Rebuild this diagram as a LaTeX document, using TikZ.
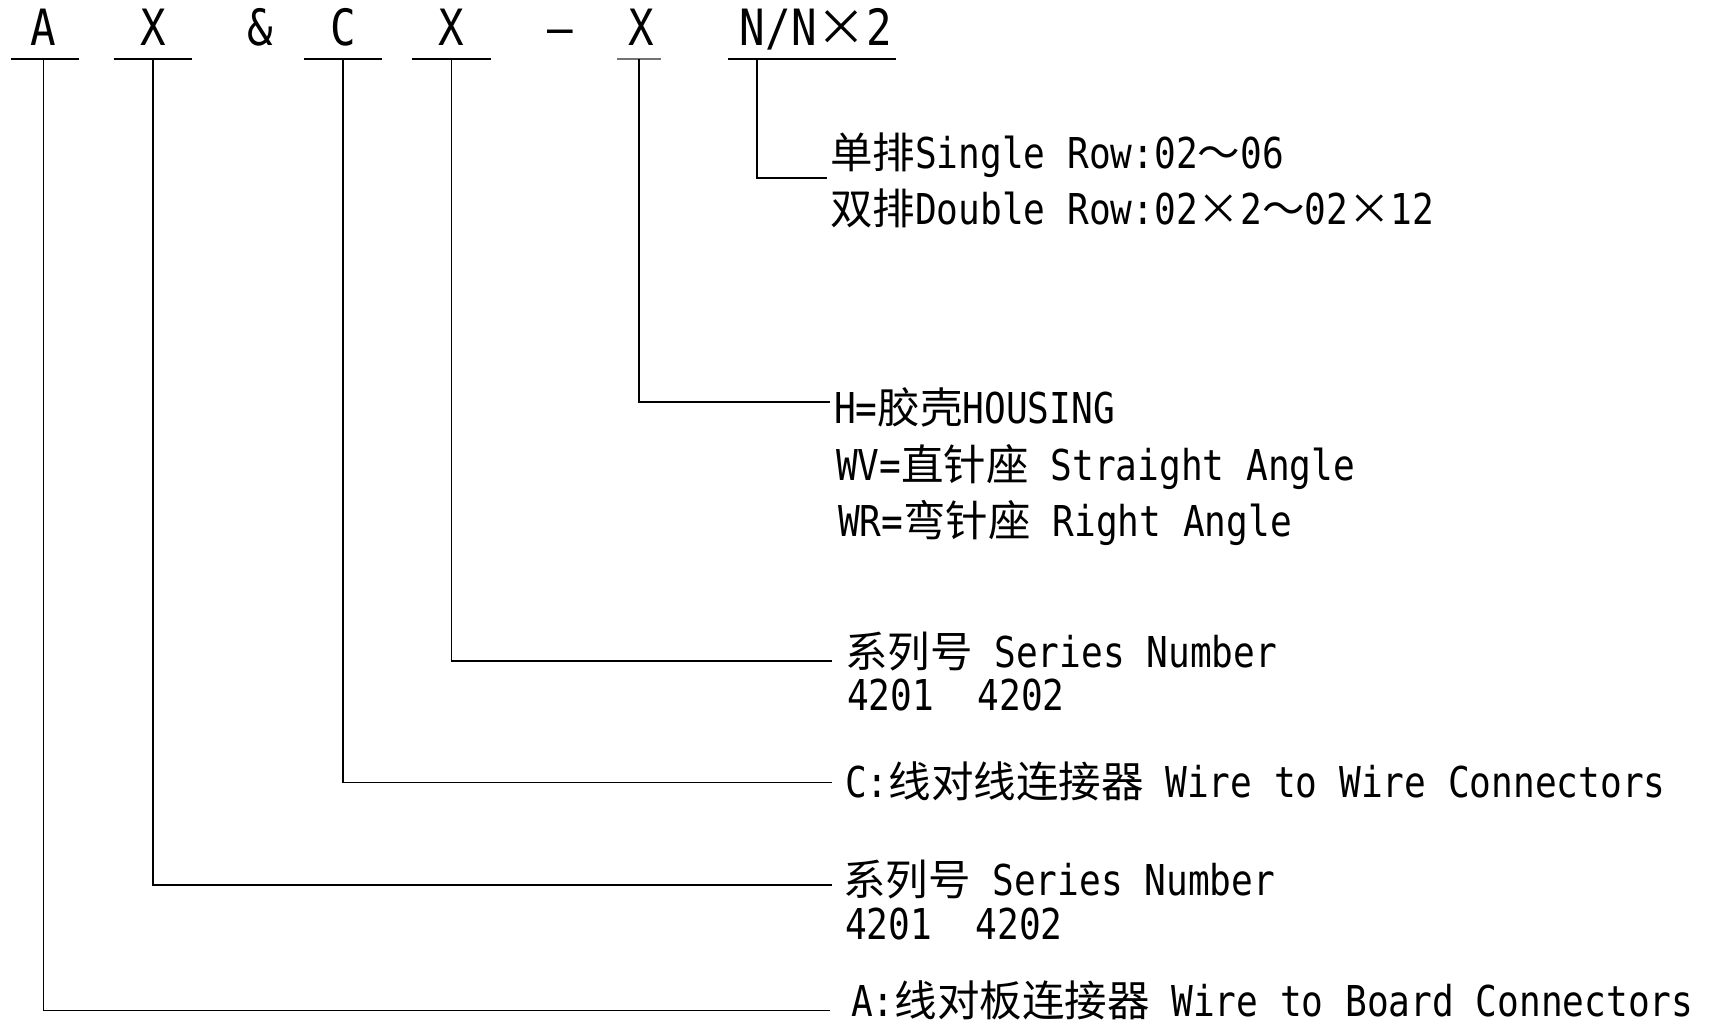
\documentclass[tikz,border=0pt]{standalone}
\usepackage{fontspec}
\setmainfont{DejaVu Sans Mono}[FakeStretch=0.85]
\newfontfamily\cjk{Noto Sans CJK SC}
\begin{document}
\begin{tikzpicture}[x=1pt,y=-1pt,
  toplet/.style={inner sep=0pt,anchor=base,font=\fontsize{50}{56}\selectfont},
  lbl/.style={inner sep=0pt,anchor=base west,font=\fontsize{42.5}{48}\selectfont},
  ln/.style={line width=1.3pt,black},
  gln/.style={line width=1.6pt,black!55}]
\useasboundingbox (0,0) rectangle (1713,1026);
% top code letters
\node[toplet] (tA)   at (43.7,45.9) {A};
\node[toplet] (tX1)  at (153,45.9) {X};
\node[toplet] (tamp) at (260,45.9) {\&};
\node[toplet] (tC)   at (343,45.9) {C};
\node[toplet] (tX2)  at (451,45.9) {X};
\node[toplet] (tdash) at (560,45.9) {–};
\node[toplet] (tX3)  at (641,45.9) {X};
\node[toplet] (tN)   at (816,45.9) {N/N{\cjk ×}2};
% underlines
\draw[ln] (10.9,59) -- (78.7,59);
\draw[ln] (113.6,59) -- (192.3,59);
\draw[ln] (303.7,59) -- (382.4,59);
\draw[ln] (411.9,59) -- (490.5,59);
\draw[gln] (617.3,59) -- (661,59);
\draw[ln] (727.6,59) -- (895.8,59);
% stems
\coordinate (uA) at (43.7,59);
\coordinate (uX1) at (153,59);
\coordinate (uC) at (343,59);
\coordinate (uX2) at (451.2,59);
\coordinate (uX3) at (639,59);
\coordinate (uN) at (757,59);
\coordinate (eN) at (827,178);
\coordinate (eX3) at (830,402);
\coordinate (eX2) at (832,661);
\coordinate (eC) at (832,782.2);
\coordinate (eX1) at (832,885);
\coordinate (eA) at (830,1010.6);
\draw[ln] (uN) |- (eN);
\draw[ln] (uX3) |- (eX3);
\draw[ln] (uX2) |- (eX2);
\draw[ln] (uC) |- (eC);
\draw[ln] (uX1) |- (eX1);
\draw[ln] (uA) |- (eA);
% labels
\node[lbl] (n1) at (830,168.2) {{\cjk 单排}Single Row:02{\cjk ～}06};
\node[lbl] (n2) at (830,224) {{\cjk 双排}Double Row:02{\cjk ×}2{\cjk ～}02{\cjk ×}12};
\node[lbl] (h1) at (834,423.9) {H={\cjk 胶壳}HOUSING};
\node[lbl] (h2) at (836,480.7) {WV={\cjk 直针座} Straight Angle};
\node[lbl] (h3) at (838,536.4) {WR={\cjk 弯针座} Right Angle};
\node[lbl] (s1) at (845,667.5) {{\cjk 系列号} Series Number};
\node[lbl] (s2) at (847,710) {4201\ \ 4202};
\node[lbl] (c1) at (845,797.5) {C:{\cjk 线对线连接器} Wire to Wire Connectors};
\node[lbl] (r1) at (843,895.9) {{\cjk 系列号} Series Number};
\node[lbl] (r2) at (845,939.5) {4201\ \ 4202};
\node[lbl] (a1) at (851,1016.5) {A:{\cjk 线对板连接器} Wire to Board Connectors};
\end{tikzpicture}
\end{document}
